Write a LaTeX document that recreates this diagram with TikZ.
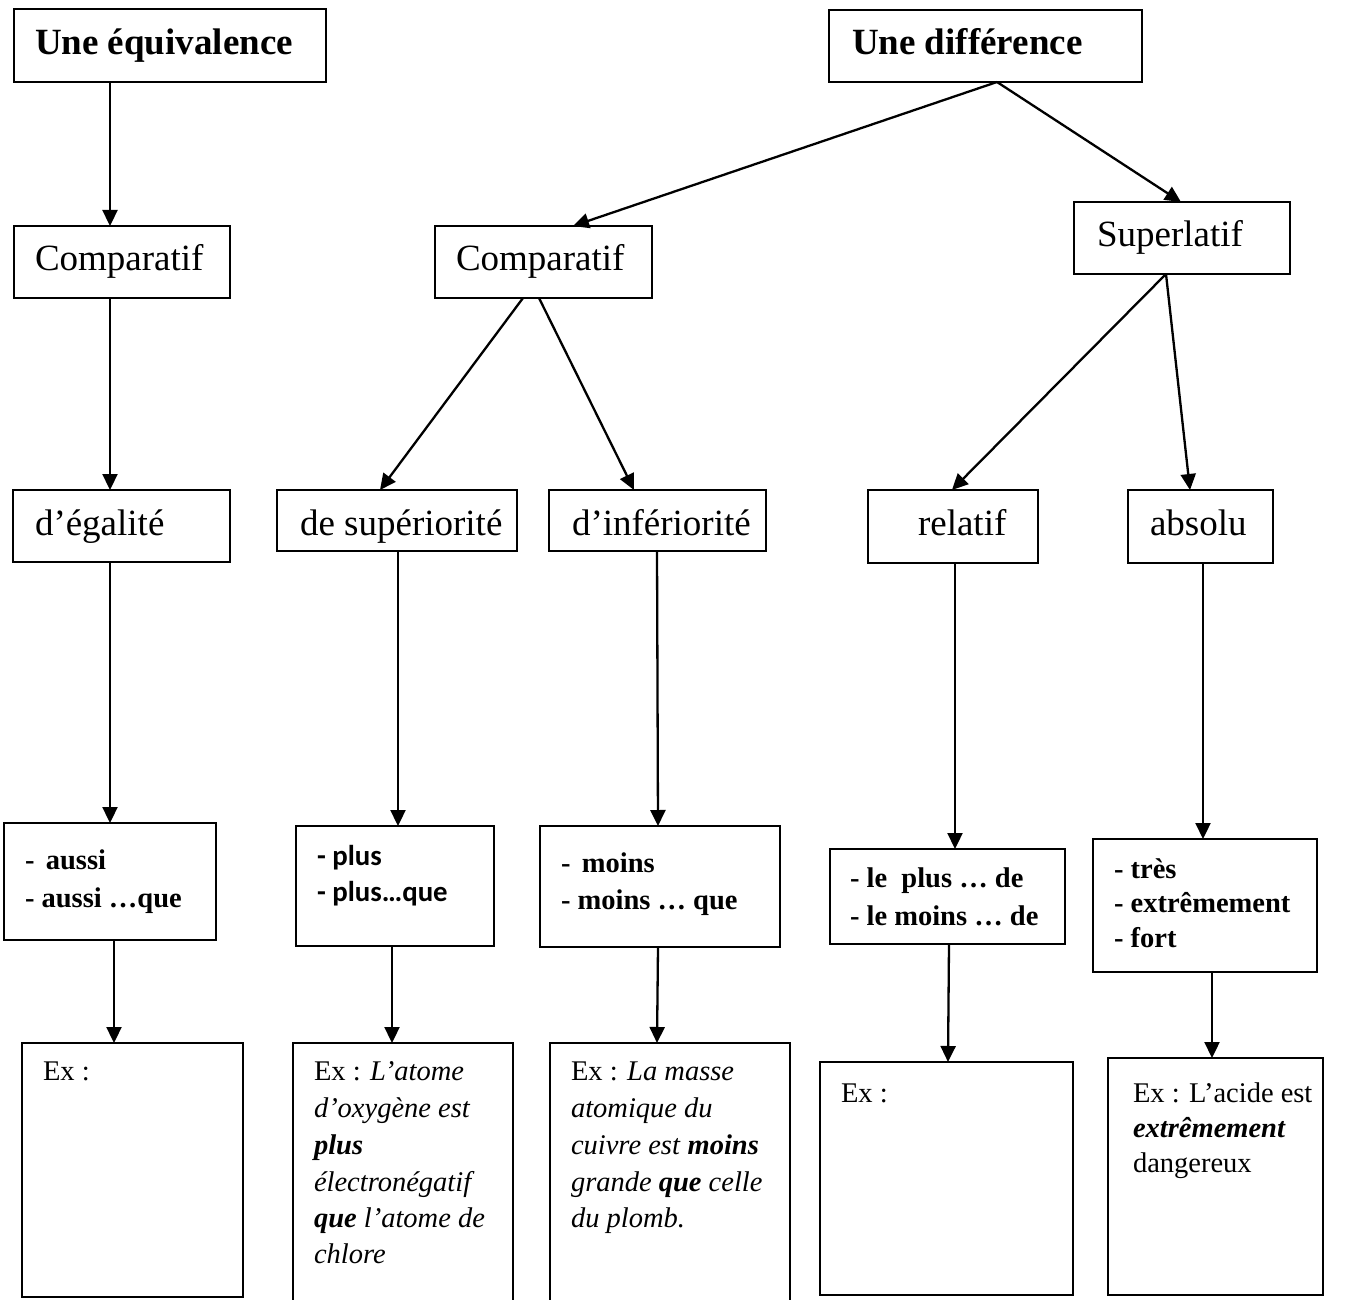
\documentclass[tikz,border=0pt]{standalone}
\usepackage{fontspec}
\setmainfont{Liberation Serif}
\newfontfamily\calib{Carlito}
\usetikzlibrary{arrows.meta}
\begin{document}
\begin{tikzpicture}[x=1pt,y=-1pt,
  box/.style={draw, line width=1.9pt, rectangle, inner sep=0pt, outer sep=0pt, anchor=north west},
  arr/.style={line width=2.3pt, -{Triangle[length=16pt,width=15pt]}},
  lbl/.style={anchor=base west, inner sep=0pt, outer sep=0pt},
  big/.style={lbl, font=\fontsize{37}{44}\selectfont},
  bigb/.style={lbl, font=\fontsize{37}{44}\selectfont\bfseries},
  mid/.style={lbl, font=\fontsize{28.5}{34}\selectfont\bfseries},
  midc/.style={lbl, font=\fontsize{28.8}{34}\selectfont\calib\bfseries},
  ex/.style={lbl, font=\fontsize{28.5}{34}\selectfont},
]
\useasboundingbox (0,0) rectangle (1349,1300);
\fill[white] (0,0) rectangle (1349,1300);
\clip (0,0) rectangle (1349,1300);

% level 0
\node[box, minimum width=312pt, minimum height=73pt] (h1) at (14,9) {};
\node[box, minimum width=313pt, minimum height=72pt] (h2) at (829,10) {};
% level 1
\node[box, minimum width=216pt, minimum height=72pt] (c1) at (14,226) {};
\node[box, minimum width=217pt, minimum height=72pt] (c2) at (435,226) {};
\node[box, minimum width=216pt, minimum height=72pt] (sup) at (1074,202) {};
% level 2
\node[box, minimum width=217pt, minimum height=72pt] (ega) at (13,490) {};
\node[box, minimum width=240pt, minimum height=61pt] (supe) at (277,490) {};
\node[box, minimum width=217pt, minimum height=61pt] (inf) at (549,490) {};
\node[box, minimum width=170pt, minimum height=73pt] (rel) at (868,490) {};
\node[box, minimum width=145pt, minimum height=73pt] (abs) at (1128,490) {};
% level 3
\node[box, minimum width=212pt, minimum height=117pt] (b1) at (4,823) {};
\node[box, minimum width=198pt, minimum height=120pt] (b2) at (296,826) {};
\node[box, minimum width=240pt, minimum height=121pt] (b3) at (540,826) {};
\node[box, minimum width=235pt, minimum height=95pt] (b4) at (830,849) {};
\node[box, minimum width=224pt, minimum height=133pt] (b5) at (1093,839) {};
% level 4
\node[box, minimum width=221pt, minimum height=254pt] (e1) at (22,1043) {};
\node[box, minimum width=220pt, minimum height=280pt] (e2) at (293,1043) {};
\node[box, minimum width=240pt, minimum height=280pt] (e3) at (550,1043) {};
\node[box, minimum width=253pt, minimum height=233pt] (e4) at (820,1062) {};
\node[box, minimum width=215pt, minimum height=237pt] (e5) at (1108,1058) {};

% texts
\node[bigb] (th1) at (35,55) {Une équivalence};
\node[bigb] (th2) at (852,55) {Une différence};
\node[big] (tc1) at (35,270) {Comparatif};
\node[big] (tc2) at (456,270) {Comparatif};
\node[big] (tsup) at (1097,247) {Superlatif};
\node[big] (tega) at (35,535) {d’égalité};
\node[big] (tsupe) at (300,535) {de supériorité};
\node[big] (tinf) at (572,535) {d’infériorité};
\node[big] (trel) at (918,535) {relatif};
\node[big] (tabs) at (1150,535) {absolu};

\node[mid] (tb1a) at (25,869) {-\hspace{0.4em}aussi};
\node[mid] (tb1b) at (25,907) {- aussi …que};
\node[midc] (tb2a) at (317,865) {- plus};
\node[midc] (tb2b) at (317,901) {- plus…que};
\node[mid] (tb3a) at (561,872) {-\hspace{0.4em}moins};
\node[mid] (tb3b) at (561,909) {- moins … que};
\node[mid] (tb4a) at (850,887) {- le\ \ plus … de};
\node[mid] (tb4b) at (850,925) {- le moins … de};
\node[mid] (tb5a) at (1114,878) {- très};
\node[mid] (tb5b) at (1114,912) {- extrêmement};
\node[mid] (tb5c) at (1114,947) {- fort};

\node[ex] (te1) at (43,1080) {Ex :};
\node[ex] (te2a) at (314,1080) {Ex : \textit{L’atome}};
\node[ex] (te2b) at (314,1117) {\textit{d’oxygène est}};
\node[ex] (te2c) at (314,1154) {\textbf{\textit{plus}}};
\node[ex] (te2d) at (314,1191) {\textit{électronégatif}};
\node[ex] (te2e) at (314,1227) {\textbf{\textit{que}} \textit{l’atome de}};
\node[ex] (te2f) at (314,1263) {\textit{chlore}};
\node[ex] (te3a) at (571,1080) {Ex : \textit{La masse}};
\node[ex] (te3b) at (571,1117) {\textit{atomique du}};
\node[ex] (te3c) at (571,1154) {\textit{cuivre est} \textbf{\textit{moins}}};
\node[ex] (te3d) at (571,1191) {\textit{grande} \textbf{\textit{que}} \textit{celle}};
\node[ex] (te3e) at (571,1227) {\textit{du plomb.}};
\node[ex] (te4) at (841,1102) {Ex :};
\node[ex] (te5a) at (1133,1102) {Ex : L’acide est};
\node[ex] (te5b) at (1133,1137) {\textbf{\textit{extrêmement}}};
\node[ex] (te5c) at (1133,1172) {dangereux};

% connectors
\draw[arr] ([xshift=96pt]h1.south west) -- ([xshift=96pt]c1.north west);
\draw[arr] ([xshift=96pt]c1.south west) -- ([xshift=97pt]ega.north west);
\draw[arr] ([xshift=97pt]ega.south west) -- ([xshift=106pt]b1.north west);
\draw[arr] ([xshift=110pt]b1.south west) -- ([xshift=92pt]e1.north west);
\draw[arr] ([xshift=168pt]h2.south west) -- ([xshift=138pt]c2.north west);
\draw[arr] ([xshift=168pt]h2.south west) -- ([xshift=107pt]sup.north west);
\draw[arr] ([xshift=88pt]c2.south west) -- ([xshift=103pt]supe.north west);
\draw[arr] ([xshift=104pt]c2.south west) -- ([xshift=85pt]inf.north west);
\draw[arr] ([xshift=92pt]sup.south west) -- ([xshift=84pt]rel.north west);
\draw[arr] ([xshift=92pt]sup.south west) -- ([xshift=62pt]abs.north west);
\draw[arr] ([xshift=121pt]supe.south west) -- ([xshift=102pt]b2.north west);
\draw[arr] ([xshift=108pt]inf.south west) -- ([xshift=118pt]b3.north west);
\draw[arr] ([xshift=87pt]rel.south west) -- ([xshift=125pt]b4.north west);
\draw[arr] ([xshift=75pt]abs.south west) -- ([xshift=110pt]b5.north west);
\draw[arr] ([xshift=96pt]b2.south west) -- ([xshift=99pt]e2.north west);
\draw[arr] ([xshift=118pt]b3.south west) -- ([xshift=107pt]e3.north west);
\draw[arr] ([xshift=119pt]b4.south west) -- ([xshift=128pt]e4.north west);
\draw[arr] ([xshift=119pt]b5.south west) -- ([xshift=104pt]e5.north west);
\end{tikzpicture}
\end{document}
